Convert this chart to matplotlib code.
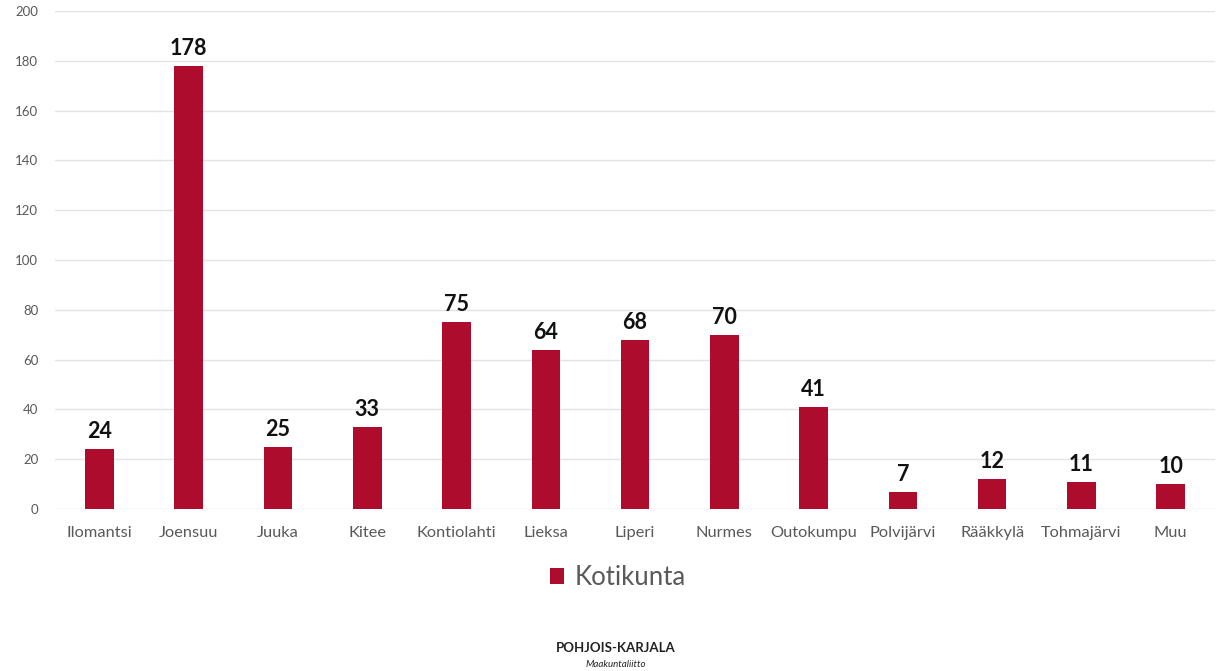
import numpy as np
import matplotlib.pyplot as plt

kunnat = ['Ilomantsi', 'Joensuu', 'Juuka', 'Kitee', 'Kontiolahti', 'Lieksa',
          'Liperi', 'Nurmes', 'Outokumpu', 'Polvijärvi', 'Rääkkylä',
          'Tohmajärvi', 'Muu']
kotikunta = [24, 178, 25, 33, 75, 64, 68, 70, 41, 7, 12, 11, 10]
yticks = [0, 20, 40, 60, 80, 100, 120, 140, 160, 180, 200]

bar_color = '#ad0c2d'
grey = '#595959'

def main():
    plt.rcParams['font.family'] = ['Lato', 'DejaVu Sans']
    fig = plt.figure(figsize=(12.19, 6.71), dpi=100)
    ax = fig.add_axes([0.045, 0.2414, 0.952, 0.7422])

    x = np.arange(len(kunnat))
    bars = ax.bar(x, kotikunta, width=0.32, color=bar_color, zorder=3,
                  label='Kotikunta')
    for rect, v in zip(bars, kotikunta):
        ax.annotate(str(v), (rect.get_x() + rect.get_width() / 2, v),
                    xytext=(0, 5), textcoords='offset points',
                    ha='center', va='bottom', fontsize=15.5,
                    fontweight='bold', color='#111111')

    ax.set_xlim(-0.5, len(kunnat) - 0.5)
    ax.set_ylim(0, 200)
    ax.set_yticks(yticks)
    ax.set_xticks(x)
    ax.set_xticklabels(kunnat, fontsize=11.8, color=grey)
    ax.tick_params(axis='y', labelsize=9.5, labelcolor=grey, length=0, pad=12)
    ax.tick_params(axis='x', length=0, pad=12)
    ax.grid(axis='y', color='#e3e3e3', linewidth=1, zorder=0)
    for s in ax.spines.values():
        s.set_visible(False)

    fig.legend(handles=[bars], labels=['Kotikunta'], loc='center',
               bbox_to_anchor=(0.507, 0.139), frameon=False, fontsize=18.5,
               handlelength=0.55, handleheight=0.55, handletextpad=0.4,
               labelcolor=grey)

    # logo text at bottom
    fig.text(0.505, 0.034, 'POHJOIS-KARJALA', ha='center', va='center',
             fontsize=9.5, color='#222222', fontweight='bold')
    fig.text(0.505, 0.010, 'Maakuntaliitto', ha='center', va='center',
             fontsize=7, color='#222222', style='italic')

    fig.savefig('out.png', dpi=100)

if __name__ == '__main__':
    main()
